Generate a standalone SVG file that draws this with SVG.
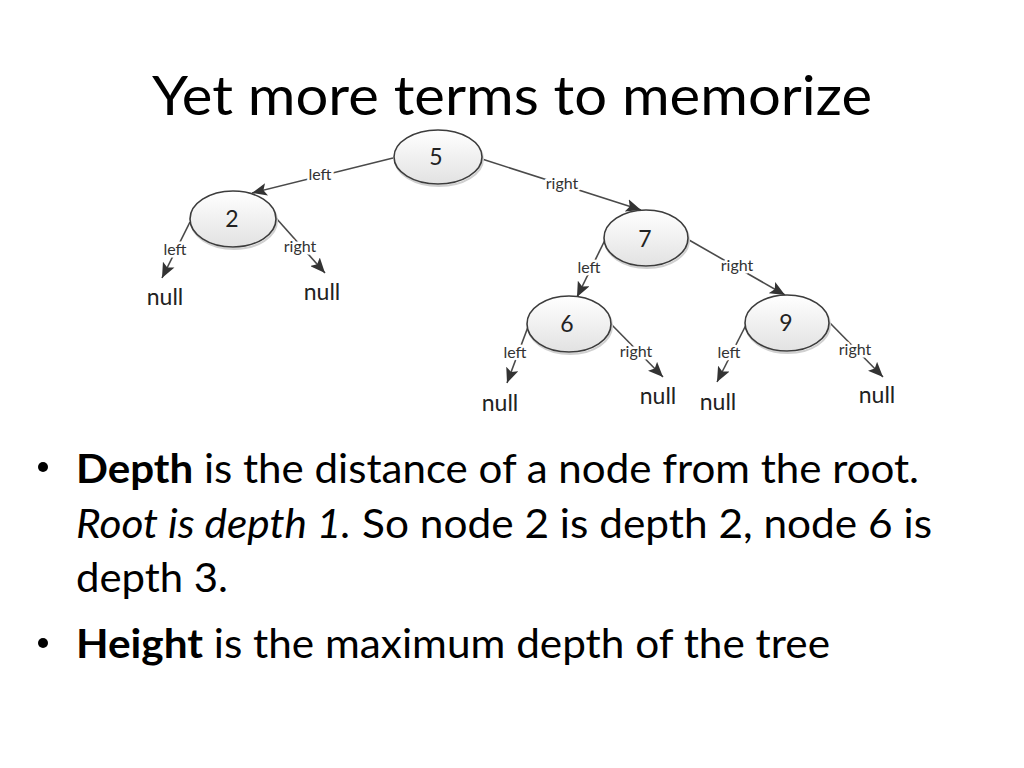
<svg xmlns="http://www.w3.org/2000/svg" width="1024" height="768" viewBox="0 0 1024 768">
<style>
.title{font-family:Lato,"Liberation Sans",sans-serif;font-size:55px;fill:#000}
.body{font-family:Lato,"Liberation Sans",sans-serif;font-size:41px;fill:#000}
.b{font-weight:bold}
.i{font-style:italic}
.node ellipse{fill:url(#g);stroke:#3c3c3c;stroke-width:1.6}
.node .sh{fill:none;stroke:#d0d0d0;stroke-width:2}
.num{font-family:Lato,"Liberation Sans",sans-serif;font-size:23px;fill:#222;text-anchor:middle}
.lbl{font-family:Lato,"Liberation Sans",sans-serif;font-size:16px;fill:#333;text-anchor:middle;stroke:#fff;stroke-width:5px;paint-order:stroke;stroke-linejoin:round}
.null{font-family:Lato,"Liberation Sans",sans-serif;font-size:23px;fill:#222;text-anchor:middle}
.edge{stroke:#4a4a4a;stroke-width:1.6;fill:none;marker-end:url(#arr)}
</style>
<defs>
<linearGradient id="g" x1="0" y1="0" x2="0" y2="1">
<stop offset="0" stop-color="#ffffff"/>
<stop offset="1" stop-color="#e2e2e2"/>
</linearGradient>
<marker id="arr" viewBox="0 0 14 12" refX="14" refY="6" markerWidth="15" markerHeight="13" markerUnits="userSpaceOnUse" orient="auto">
<path d="M0,0 L14,6 L0,12 L3,6 Z" fill="#333"/>
</marker>
</defs>
<rect width="1024" height="768" fill="#fff"/>
<text class="title" x="152" y="115" textLength="720" lengthAdjust="spacingAndGlyphs">Yet more terms to memorize</text>

<g id="connectors">
<line class="edge" x1="393" y1="158" x2="252" y2="193"/>
<line class="edge" x1="482" y1="159" x2="641" y2="210"/>
<line class="edge" x1="190" y1="222" x2="162" y2="278"/>
<line class="edge" x1="276" y1="218" x2="325" y2="273"/>
<line class="edge" x1="605" y1="240" x2="577" y2="297"/>
<line class="edge" x1="689" y1="240" x2="785" y2="295"/>
<line class="edge" x1="528" y1="327" x2="507" y2="383"/>
<line class="edge" x1="610" y1="323" x2="663" y2="377"/>
<line class="edge" x1="746" y1="325" x2="717" y2="382"/>
<line class="edge" x1="830" y1="323" x2="883" y2="377"/>
<text class="lbl" x="320" y="180">left</text>
<text class="lbl" x="562" y="189">right</text>
<text class="lbl" x="175" y="255">left</text>
<text class="lbl" x="300" y="252">right</text>
<text class="lbl" x="589" y="273">left</text>
<text class="lbl" x="737" y="271">right</text>
<text class="lbl" x="515" y="358">left</text>
<text class="lbl" x="636" y="357">right</text>
<text class="lbl" x="729" y="358">left</text>
<text class="lbl" x="855" y="355">right</text>
</g>

<g id="n5" class="node"><ellipse class="sh" cx="439" cy="159" rx="44" ry="27"/><ellipse cx="438" cy="157" rx="44" ry="27"/><text class="num" x="436" y="165">5</text></g>
<g id="n2" class="node"><ellipse class="sh" cx="234" cy="221" rx="43" ry="28"/><ellipse cx="233" cy="219" rx="43" ry="28"/><text class="num" x="232" y="227">2</text></g>
<g id="n7" class="node"><ellipse class="sh" cx="647" cy="240" rx="42" ry="28"/><ellipse cx="646" cy="238" rx="42" ry="28"/><text class="num" x="645" y="247">7</text></g>
<g id="n6" class="node"><ellipse class="sh" cx="570" cy="326" rx="42" ry="28"/><ellipse cx="569" cy="324" rx="42" ry="28"/><text class="num" x="567" y="332">6</text></g>
<g id="n9" class="node"><ellipse class="sh" cx="788" cy="325" rx="42" ry="28"/><ellipse cx="787" cy="323" rx="42" ry="28"/><text class="num" x="786" y="331">9</text></g>

<g id="null2L"><text class="null" x="165" y="305">null</text></g>
<g id="null2R"><text class="null" x="322" y="300">null</text></g>
<g id="null6L"><text class="null" x="500" y="411">null</text></g>
<g id="null6R"><text class="null" x="658" y="404">null</text></g>
<g id="null9L"><text class="null" x="718" y="410">null</text></g>
<g id="null9R"><text class="null" x="877" y="403">null</text></g>

<circle cx="43" cy="467" r="5" fill="#000"/>
<text class="body" x="76" y="483" textLength="843" lengthAdjust="spacingAndGlyphs"><tspan class="b">Depth</tspan> is the distance of a node from the root.</text>
<text class="body" x="76" y="538" textLength="856" lengthAdjust="spacingAndGlyphs"><tspan class="i">Root is depth 1.</tspan> So node 2 is depth 2, node 6 is</text>
<text class="body" x="76" y="592" textLength="152" lengthAdjust="spacingAndGlyphs">depth 3.</text>
<circle cx="43" cy="643" r="5" fill="#000"/>
<text class="body" x="76" y="658" textLength="754" lengthAdjust="spacingAndGlyphs"><tspan class="b">Height</tspan> is the maximum depth of the tree</text>
</svg>
